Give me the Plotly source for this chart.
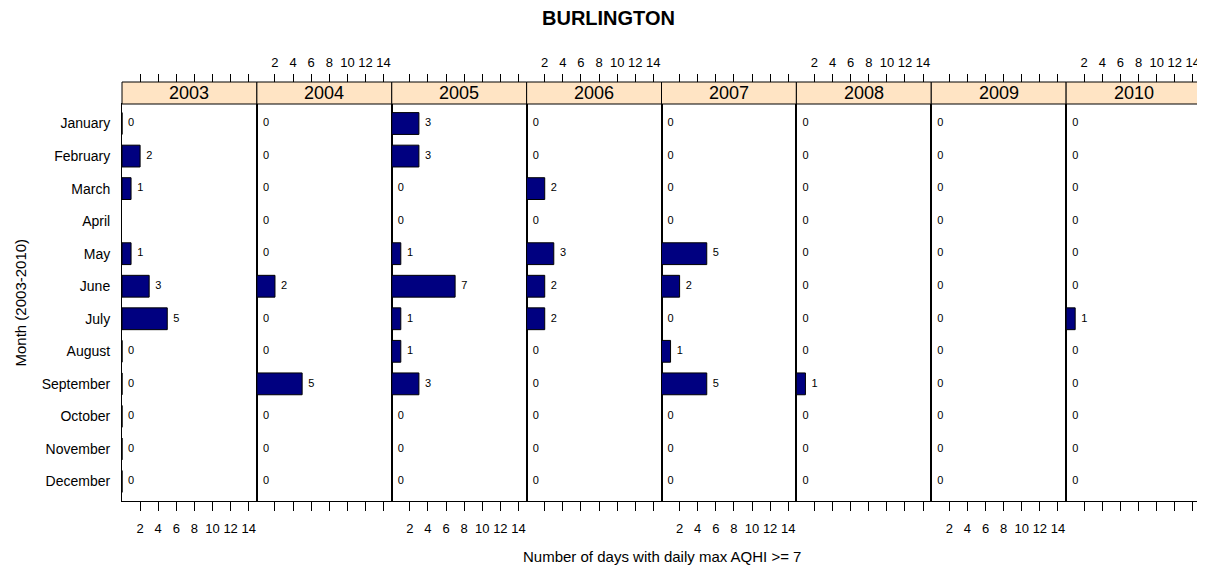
import plotly.graph_objects as go

months = ["January", "February", "March", "April", "May", "June", "July",
          "August", "September", "October", "November", "December"]
years = ["2003", "2004", "2005", "2006", "2007", "2008", "2009", "2010"]

v2003 = [0, 2, 1, None, 1, 3, 5, 0, 0, 0, 0, 0]
v2004 = [0, 0, 0, 0, 0, 2, 0, 0, 5, 0, 0, 0]
v2005 = [3, 3, 0, 0, 1, 7, 1, 1, 3, 0, 0, 0]
v2006 = [0, 0, 2, 0, 3, 2, 2, 0, 0, 0, 0, 0]
v2007 = [0, 0, 0, 0, 5, 2, 0, 1, 5, 0, 0, 0]
v2008 = [0, 0, 0, 0, 0, 0, 0, 0, 1, 0, 0, 0]
v2009 = [0, 0, 0, 0, 0, 0, 0, 0, 0, 0, 0, 0]
v2010 = [0, 0, 0, 0, 0, 0, 1, 0, 0, 0, 0, 0]
values = [v2003, v2004, v2005, v2006, v2007, v2008, v2009, v2010]

tick_vals = [2, 4, 6, 8, 10, 12, 14]
x_range = [0, 14.9]

# page body margin of 8px is compensated
OFF = 8
W, H = 1205 - OFF, 571 - OFF
left, right = 122, 1201
p_top, p_bot = 104, 501
strip_top = 82
pw = (right - left) / 8


def px(x):
    return (x - OFF) / W


def py(y):
    return 1 - (y - OFF) / H


FONT = "Liberation Sans, Arial, sans-serif"
fig = go.Figure()
layout = dict(width=W, height=H, margin=dict(l=0, r=0, t=0, b=0, pad=0),
              plot_bgcolor="white", paper_bgcolor="white", showlegend=False,
              font=dict(family=FONT, color="black"))

shapes = []
annotations = []
NB = "\u00a0\u00a0"
for i, yr in enumerate(years):
    n = i + 1
    xa = "x" if n == 1 else f"x{n}"
    ya = "y" if n == 1 else f"y{n}"
    dom = [px(left + i * pw), px(left + (i + 1) * pw)]
    vals = values[i]
    fig.add_trace(go.Bar(x=vals, y=months, orientation="h", xaxis=xa, yaxis=ya,
                         marker=dict(color="#000080", line=dict(color="black", width=1)),
                         width=0.67, hoverinfo="x+y"))
    tx = [v for v in vals if v is not None]
    ty = [m for v, m in zip(vals, months) if v is not None]
    fig.add_trace(go.Scatter(x=tx, y=ty, mode="text", text=[NB + str(v) for v in tx],
                             textposition="middle right", xaxis=xa, yaxis=ya,
                             textfont=dict(size=11, family=FONT, color="black"),
                             cliponaxis=False, hoverinfo="skip"))
    show_bottom = (i % 2 == 0)
    layout[f"xaxis{'' if n == 1 else n}"] = dict(
        domain=dom, range=x_range, anchor=ya, side="bottom",
        tickvals=tick_vals, ticks="outside", ticklen=9, tickwidth=1, tickcolor="black",
        showticklabels=show_bottom, ticklabelstandoff=6,
        tickfont=dict(size=13, family=FONT, color="black"),
        showline=True, linecolor="black", linewidth=1, mirror=True,
        showgrid=False, zeroline=False, fixedrange=True)
    tn = n + 8
    layout[f"xaxis{tn}"] = dict(
        domain=dom, range=x_range, anchor="free", overlaying=xa, side="top",
        position=py(strip_top), tickvals=tick_vals, ticks="outside", ticklen=8,
        tickwidth=1, tickcolor="black", showticklabels=not show_bottom,
        ticklabelstandoff=2,
        tickfont=dict(size=13, family=FONT, color="black"),
        showline=False, showgrid=False, zeroline=False, fixedrange=True)
    fig.add_trace(go.Scatter(x=[None], y=[None], xaxis=f"x{tn}", yaxis=ya,
                             hoverinfo="skip", showlegend=False))
    ykey = f"yaxis{'' if n == 1 else n}"
    layout[ykey] = dict(
        domain=[py(p_bot), py(p_top)], anchor=xa, type="category",
        categoryorder="array", categoryarray=months,
        autorange=False, range=[11.6, -0.6], showticklabels=(n == 1), ticks="",
        ticklabelstandoff=8,
        tickfont=dict(size=14, family=FONT, color="black"),
        showline=True, linecolor="black", linewidth=1, mirror=True,
        showgrid=False, zeroline=False, fixedrange=True)
    shapes.append(dict(type="rect", xref="paper", yref="paper",
                       x0=dom[0], x1=dom[1], y0=py(p_top), y1=py(strip_top),
                       fillcolor="#FFE4C4", line=dict(color="black", width=1)))
    annotations.append(dict(text=yr, xref="paper", yref="paper",
                            x=(dom[0] + dom[1]) / 2, y=py((p_top + strip_top) / 2),
                            xanchor="center", yanchor="middle",
                            showarrow=False, font=dict(size=18, family=FONT, color="black")))

annotations.append(dict(text="<b>BURLINGTON</b>", xref="paper", yref="paper",
                        x=px(608), y=py(18), xanchor="center", yanchor="middle",
                        showarrow=False, font=dict(size=20, family=FONT, color="black")))
annotations.append(dict(text="Number of days with daily max AQHI >= 7", xref="paper",
                        yref="paper", x=px((left + right) / 2), y=py(556),
                        xanchor="center", yanchor="middle",
                        showarrow=False, font=dict(size=15, family=FONT, color="black")))
annotations.append(dict(text="Month (2003-2010)", xref="paper", yref="paper",
                        x=px(20), y=py((p_top + p_bot) / 2), textangle=-90,
                        xanchor="center", yanchor="middle",
                        showarrow=False, font=dict(size=15, family=FONT, color="black")))

layout["shapes"] = shapes
layout["annotations"] = annotations
fig.update_layout(**layout)
fig.write_html("out.html")
